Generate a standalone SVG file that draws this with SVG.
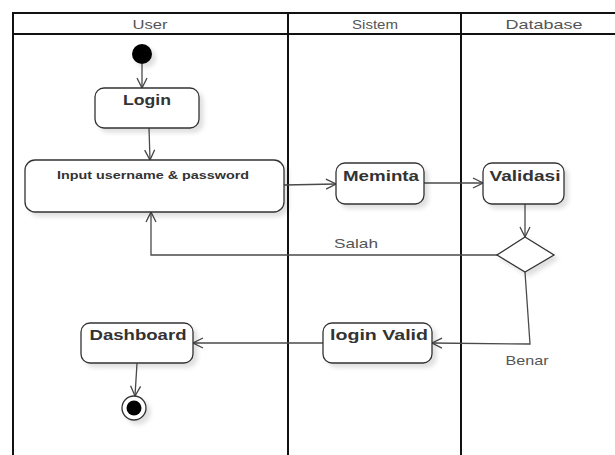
<svg xmlns="http://www.w3.org/2000/svg" width="615" height="455" viewBox="0 0 615 455">
<style>
.frame{fill:none;stroke:#111;stroke-width:2}
.node{fill:#fff;stroke:#333;stroke-width:1.3}
.lbl{font-family:"Liberation Sans",Arial,sans-serif;font-weight:bold;fill:#333;text-anchor:middle}
.hdr{font-family:"Liberation Sans",Arial,sans-serif;font-size:13.5px;fill:#555;text-anchor:middle}
.edge{fill:none;stroke:#4a4a4a;stroke-width:1.3}
.elbl{font-family:"Liberation Sans",Arial,sans-serif;font-size:13.5px;fill:#555;text-anchor:middle}
</style>
<defs>
<filter id="sh" x="-20%" y="-20%" width="150%" height="160%">
<feDropShadow dx="4" dy="4" stdDeviation="2" flood-color="#000" flood-opacity="0.12"/>
</filter>
<marker id="arr" viewBox="0 0 12 12" refX="11" refY="6" markerWidth="12" markerHeight="12" markerUnits="userSpaceOnUse" orient="auto">
<path d="M1,1 L11,6 L1,11" fill="none" stroke="#444" stroke-width="1.3"/>
</marker>
</defs>
<g id="swimlanes">
<rect x="0" y="0" width="615" height="455" fill="#fff"/>
<path class="frame" d="M13,455 V13 H615 M13,34 H615 M288,13 V455 M461,13 V455"/>
<text class="hdr" x="150" y="29" textLength="35" lengthAdjust="spacingAndGlyphs">User</text>
<text class="hdr" x="375" y="29" textLength="46" lengthAdjust="spacingAndGlyphs">Sistem</text>
<text class="hdr" x="544" y="29" textLength="77" lengthAdjust="spacingAndGlyphs">Database</text>
</g>
<g id="connectors">
<path class="edge" marker-end="url(#arr)" d="M142,64 V88"/>
<path class="edge" marker-end="url(#arr)" d="M149,128 L150,160"/>
<path class="edge" marker-end="url(#arr)" d="M284,185 L336,184"/>
<path class="edge" marker-end="url(#arr)" d="M424,183 H483"/>
<path class="edge" marker-end="url(#arr)" d="M525,204 V237"/>
<path class="edge" marker-end="url(#arr)" d="M497,255 H151 V212"/>
<path class="edge" marker-end="url(#arr)" d="M525,272 L530,344 L432,343"/>
<path class="edge" marker-end="url(#arr)" d="M323,343 H193"/>
<path class="edge" marker-end="url(#arr)" d="M137,363 L135,396"/>
<text class="elbl" x="356" y="248" textLength="44" lengthAdjust="spacingAndGlyphs">Salah</text>
<text class="elbl" x="527" y="365" textLength="43" lengthAdjust="spacingAndGlyphs">Benar</text>
</g>
<g id="start">
<circle cx="142" cy="54" r="10" fill="#000" filter="url(#sh)"/>
</g>
<g id="login">
<rect class="node" x="95" y="88" width="104" height="40" rx="9" filter="url(#sh)"/>
<text class="lbl" x="147" y="105" font-size="14.5" textLength="48" lengthAdjust="spacingAndGlyphs">Login</text>
</g>
<g id="input">
<rect class="node" x="25" y="160" width="259" height="52" rx="10" filter="url(#sh)"/>
<text class="lbl" x="153" y="179" font-size="10" textLength="192" lengthAdjust="spacingAndGlyphs">Input username &amp; password</text>
</g>
<g id="meminta">
<rect class="node" x="336" y="163" width="88" height="41" rx="9" filter="url(#sh)"/>
<text class="lbl" x="381" y="181" font-size="15" textLength="76" lengthAdjust="spacingAndGlyphs">Meminta</text>
</g>
<g id="validasi">
<rect class="node" x="483" y="163" width="81" height="41" rx="9" filter="url(#sh)"/>
<text class="lbl" x="525" y="181" font-size="15" textLength="71" lengthAdjust="spacingAndGlyphs">Validasi</text>
</g>
<g id="decision">
<polygon class="node" points="525,237 554,255 525,272 497,255" filter="url(#sh)"/>
</g>
<g id="loginvalid">
<rect class="node" x="323" y="323" width="109" height="40" rx="9" filter="url(#sh)"/>
<text class="lbl" x="379" y="340" font-size="15" textLength="98" lengthAdjust="spacingAndGlyphs">login Valid</text>
</g>
<g id="dashboard">
<rect class="node" x="81" y="323" width="112" height="40" rx="9" filter="url(#sh)"/>
<text class="lbl" x="138" y="340" font-size="15" textLength="97" lengthAdjust="spacingAndGlyphs">Dashboard</text>
</g>
<g id="end">
<circle cx="134" cy="408" r="12" fill="#fff" stroke="#333" stroke-width="1.3" filter="url(#sh)"/>
<circle cx="134" cy="408" r="7.5" fill="#000"/>
</g>
</svg>
